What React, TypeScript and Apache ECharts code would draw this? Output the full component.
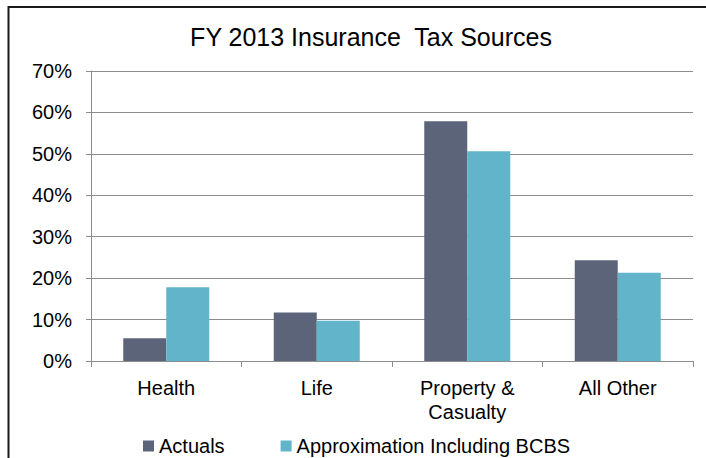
import React, { useEffect, useRef } from "react";
import * as echarts from "echarts";

const categories = ["Health", "Life", "Property &\nCasualty", "All Other"];
const actuals = [5.5, 11.7, 57.9, 24.3];
const approximation = [17.8, 9.7, 50.6, 21.3];
const seriesNames = ["Actuals", "Approximation Including BCBS"];
const titleText = "FY 2013 Insurance  Tax Sources";

const FONT = "'Liberation Sans', Arial, sans-serif";

export default function App() {
  const ref = useRef<HTMLDivElement>(null);
  useEffect(() => {
    if (!ref.current) return;
    const chart = echarts.init(ref.current, null, { renderer: "svg" });
    chart.setOption({
      animation: false,
      backgroundColor: "#ffffff",
      textStyle: { fontFamily: FONT },
      graphic: [
        {
          type: "rect",
          shape: { x: 8.5, y: 7, width: 760, height: 520 },
          style: { fill: "none", stroke: "#1a1a1a", lineWidth: 2 },
          silent: true,
          z: 10,
        },
        {
          type: "text",
          x: 371,
          y: 37,
          style: {
            text: titleText,
            font: `25px ${FONT}`,
            fill: "#000000",
            align: "center",
            verticalAlign: "middle",
          },
        },
      ],
      legend: {
        left: 143,
        top: 436,
        padding: 0,
        itemWidth: 11,
        itemHeight: 11,
        itemGap: 56,
        icon: "rect",
        textStyle: { fontSize: 20, color: "#000", fontFamily: FONT, padding: [0, 0, 0, 0] },
        itemStyle: { borderWidth: 0 },
        data: seriesNames,
      },
      grid: { left: 91, right: 13, top: 71, bottom: 97, containLabel: false },
      xAxis: {
        type: "category",
        data: categories,
        boundaryGap: true,
        axisLine: { show: true, lineStyle: { color: "#8c8c8c", width: 1 } },
        axisTick: { show: true, length: 6, alignWithLabel: false, lineStyle: { color: "#8c8c8c" } },
        axisLabel: { fontSize: 20, color: "#000", margin: 15, lineHeight: 24, fontFamily: FONT, interval: 0 },
      },
      yAxis: {
        type: "value",
        min: 0,
        max: 70,
        interval: 10,
        axisLine: { show: true, lineStyle: { color: "#8c8c8c", width: 1 } },
        axisTick: { show: true, length: 5, lineStyle: { color: "#8c8c8c" } },
        splitLine: { show: true, lineStyle: { color: "#8c8c8c", width: 1 } },
        axisLabel: { fontSize: 20, color: "#000", margin: 19, formatter: "{value}%", fontFamily: FONT },
      },
      series: [
        {
          name: seriesNames[0],
          type: "bar",
          data: actuals,
          barWidth: 43,
          barGap: "0%",
          itemStyle: { color: "#5b6478" },
        },
        {
          name: seriesNames[1],
          type: "bar",
          data: approximation,
          barWidth: 43,
          barGap: "0%",
          itemStyle: { color: "#62b4cb" },
        },
      ],
    });
    return () => chart.dispose();
  }, []);
  return (
    <div
      ref={ref}
      style={{ position: "fixed", left: 0, top: 0, width: 706, height: 458 }}
    />
  );
}
